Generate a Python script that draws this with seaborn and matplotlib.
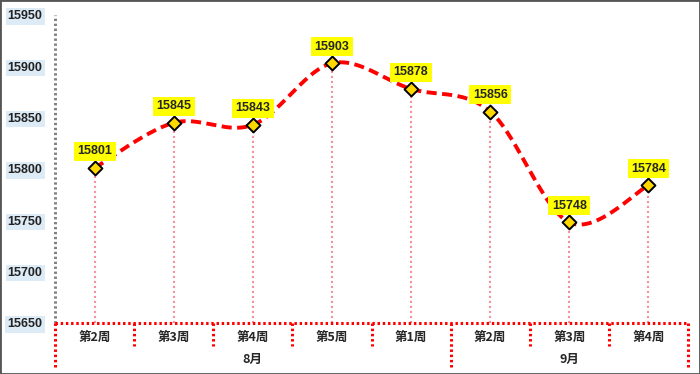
import numpy as np
import pandas as pd
import seaborn as sns
import matplotlib.pyplot as plt
from matplotlib.patches import Rectangle

# data
weeks = ["第2周", "第3周", "第4周", "第5周", "第1周", "第2周", "第3周", "第4周"]
values = [15801, 15845, 15843, 15903, 15878, 15856, 15748, 15784]
months = ["8月", "9月"]
month_sizes = [5, 3]
yticks = [15650, 15700, 15750, 15800, 15850, 15900, 15950]

sns.set_style("white")
plt.rcParams['font.family'] = ['Liberation Sans', 'DejaVu Sans']
cjk = ['Noto Sans CJK SC', 'DejaVu Sans']

xs = np.arange(len(values))
df = pd.DataFrame({"x": xs, "value": values})


# smooth line like excel (catmull-rom bezier), done in roughly screen-scaled units
def smooth(x, y, sx=79.0, sy=1.026, n=30):
    P = np.column_stack([np.asarray(x, float) * sx, np.asarray(y, float) * sy])
    out = []
    for i in range(len(P) - 1):
        p0 = P[i - 1] if i > 0 else P[i]
        p1, p2 = P[i], P[i + 1]
        p3 = P[i + 2] if i + 2 < len(P) else P[i + 1]
        c1 = p1 + (p2 - p0) / 6
        c2 = p2 - (p3 - p1) / 6
        t = np.linspace(0, 1, n)[:, None]
        seg = (1 - t) ** 3 * p1 + 3 * (1 - t) ** 2 * t * c1 + 3 * (1 - t) * t ** 2 * c2 + t ** 3 * p2
        out.append(seg if i == 0 else seg[1:])
    out = np.vstack(out)
    return out[:, 0] / sx, out[:, 1] / sy


cx, cy = smooth(xs, values)
curve = pd.DataFrame({"x": cx, "y": cy})

red = dict(color="#FF0000", lw=2.2, dashes=(0.8, 0.9), dash_capstyle="butt", clip_on=False)
grey = dict(color="#7F7F7F", lw=2.1, dashes=(0.8, 0.9), dash_capstyle="butt", clip_on=False)

fig = plt.figure(figsize=(7, 3.74), dpi=100)
ax = fig.add_axes([55 / 700, 1 - 323 / 374, 633 / 700, 308 / 374])

# drop lines
ax.vlines(xs, yticks[0], values, colors="#F7919C", linestyles=(0, (1, 1.4)), lw=1.5, zorder=1)

sns.lineplot(data=curve, x="x", y="y", ax=ax, color="#FF0000", lw=2.8,
             sort=False, zorder=2)
ax.lines[-1].set_dashes((2.6, 1.4))
sns.scatterplot(data=df, x="x", y="value", ax=ax, marker="D", s=50,
                color="#FFD800", edgecolor="black", linewidth=1.4, zorder=3)

for x, v in zip(xs, values):
    ax.annotate(str(v), (x, v), xytext=(0, 12), textcoords="offset points",
                ha="center", va="center", fontsize=9, fontweight="bold",
                bbox=dict(facecolor="#FFFF00", edgecolor="none", pad=2.5), zorder=4)

ax.set_xlim(-0.5, len(values) - 0.5)
ax.set_ylim(yticks[0], yticks[-1])
ax.set_yticks(yticks)
ax.set_xticks([])
ax.set_xlabel("")
ax.set_ylabel("")
for s in ax.spines:
    ax.spines[s].set_visible(False)
ax.axvline(-0.5, **grey, zorder=1)
ax.axhline(yticks[0], **red, zorder=1)
ax.tick_params(axis="y", length=3, color="#7F7F7F", pad=6, labelsize=9)
for lab in ax.get_yticklabels():
    lab.set_fontweight("bold")
    lab.set_color("#222222")
    lab.set_bbox(dict(facecolor="#DDEBF7", edgecolor="none", pad=1.5))

# category area below the plot
bx = fig.add_axes([55 / 700, 1 - 370 / 374, 633 / 700, 47 / 374])
bx.set_xlim(-0.5, len(values) - 0.5)
bx.set_ylim(0, 1)
bx.axis("off")
edges = np.cumsum([0] + month_sizes) - 0.5
for i in range(len(values) + 1):
    b = i - 0.5
    low = 0.04 if b in edges else 0.52
    bx.plot([b, b], [1, low], **red)
for i, w in enumerate(weeks):
    bx.text(i, 0.7, w, ha="center", va="center", fontsize=9, fontweight="bold", family=cjk)
for m, a, b in zip(months, edges[:-1], edges[1:]):
    bx.text((a + b) / 2, 0.22, m, ha="center", va="center", fontsize=9,
            fontweight="bold", family=cjk)

fig.patches.append(Rectangle((0, 0), 1, 1, transform=fig.transFigure, fill=False,
                             edgecolor="#555555", lw=2))

fig.savefig("out.png", dpi=100)
